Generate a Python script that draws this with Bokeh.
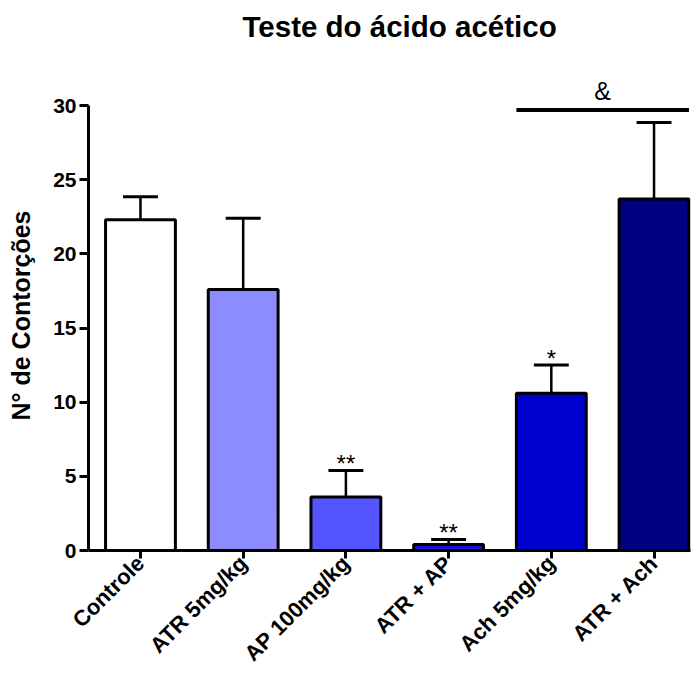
from math import pi
from bokeh.plotting import figure
from bokeh.models import Range1d, FixedTicker, ColumnDataSource, LinearAxis
from bokeh.core.properties import value
from bokeh.embed import file_html
from bokeh.resources import INLINE

title_text = "Teste do ácido acético"
y_label = "N° de Contorções"
categories = ["Controle", "ATR 5mg/kg", "AP 100mg/kg", "ATR + AP", "Ach 5mg/kg", "ATR + Ach"]
means = [22.3, 17.6, 3.6, 0.4, 10.6, 23.7]
err_top = [23.85, 22.4, 5.4, 0.75, 12.5, 28.85]
stars = ["", "", "**", "**", "*", ""]
colors = ["#FFFFFF", "#8C8CFF", "#5555FF", "#1414D2", "#0000CC", "#000080"]
y_ticks = [0, 5, 10, 15, 20, 25, 30]
sig_text = "&"
sig_y = 29.7
sig_from, sig_to = 4, 5

FONT = "Liberation Sans"
BW = 0.68

xs = list(range(len(categories)))
src = ColumnDataSource(dict(
    x=xs, top=means, err=err_top, color=colors, star=stars,
    cl=[x - BW / 4 for x in xs], cr=[x + BW / 4 for x in xs],
))

p = figure(width=694, height=677, output_backend="svg", toolbar_location=None,
           x_range=Range1d(-0.506, 5.355), y_range=Range1d(0, 31.69),
           min_border_left=88, min_border_right=4, min_border_top=80, min_border_bottom=127)

p.title.text = title_text
p.title.text_font = FONT
p.title.text_font_size = "29.5px"
p.title.text_font_style = "bold"
p.title.text_color = "black"
p.title.align = "left"
p.title.offset = 154
p.title.standoff = 0

p.vbar(x="x", top="top", bottom=0, width=BW, source=src, fill_color="color",
       line_color="black", line_width=3)
p.segment(x0="x", y0="top", x1="x", y1="err", source=src, line_color="black", line_width=2.5)
p.segment(x0="cl", y0="err", x1="cr", y1="err", source=src, line_color="black", line_width=3)
p.text(x="x", y="err", text="star", source=src, text_font=value(FONT), text_font_size="24px",
       text_align="center", text_baseline="bottom", y_offset=7, text_color="black")

# significance line
p.segment(x0=[sig_from - BW / 2], y0=[sig_y], x1=[sig_to + BW / 2], y1=[sig_y],
          line_color="black", line_width=4)
p.text(x=[(sig_from + sig_to) / 2], y=[sig_y], text=[sig_text], text_font=value(FONT),
       text_font_size="25px", text_align="center", text_baseline="bottom", y_offset=-5,
       text_color="black")

p.xgrid.visible = False
p.ygrid.visible = False
p.outline_line_color = None

xax = p.below[0]
yax = p.left[0]
xax.ticker = FixedTicker(ticks=xs)
xax.major_label_overrides = {x: c for x, c in zip(xs, categories)}
xax.major_label_orientation = pi / 4
yax.ticker = FixedTicker(ticks=y_ticks)
yax.bounds = (0, 30)
yax.axis_label = y_label

for ax in (xax, yax):
    ax.axis_line_width = 3
    ax.axis_line_color = "black"
    ax.major_tick_line_width = 3
    ax.major_tick_line_color = "black"
    ax.major_tick_in = 0
    ax.minor_tick_line_color = None
    ax.major_label_text_font = FONT
    ax.major_label_text_font_style = "bold"
    ax.major_label_text_color = "black"
    ax.axis_label_text_font = FONT
    ax.axis_label_text_font_style = "bold"
    ax.axis_label_text_font_size = "25px"
    ax.axis_label_text_color = "black"

xax.major_tick_out = 8
xax.major_label_standoff = 1
xax.major_label_text_font_size = "22px"
yax.major_tick_out = 9
yax.major_label_standoff = 3
yax.major_label_text_font_size = "21px"
yax.axis_label_standoff = 15

# spacer axis above: one invisible tick gives it height, pushing the title upward
spacer = LinearAxis(ticker=FixedTicker(ticks=[xs[0]]), axis_line_color=None, major_tick_out=38,
                    major_tick_in=0, major_label_standoff=0, minor_tick_line_color=None,
                    major_tick_line_color=None, major_label_overrides={xs[0]: ""})
p.add_layout(spacer, "above")

open("out.html", "w").write(file_html(p, INLINE))
